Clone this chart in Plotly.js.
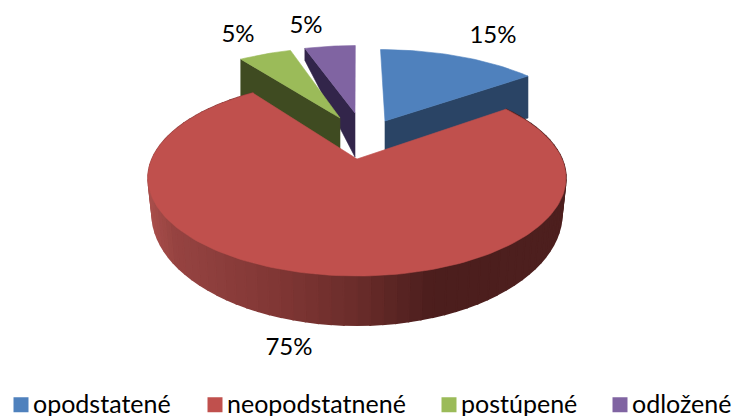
<!DOCTYPE html>
<html><head><meta charset="utf-8">
<script src="https://cdn.plot.ly/plotly-3.0.1.min.js"></script>
<style>html,body{margin:0;padding:0;background:#fff;overflow:hidden}#wrap{width:734px;height:416px;overflow:hidden}#c{width:770px;height:416px}</style>
</head><body><div id="wrap"><div id="c"></div></div>
<script>
// Data
const categories = ['opodstatené','neopodstatnené','postúpené','odložené'];
const shares = [15,75,5,5];
const colors = ['#4f81bd','#c0504d','#9bbb59','#8064a2'];
const cutColors = ['#2a4465','#4c1e1d','#3f4b21','#32254a'];

// Pie drawing order starts at 12 o'clock, clockwise
const explodeU = [0.148,0,-0.0905,-0.0108];
const explodeV = [0.437,0,0.475,0.539];
const radius = [1.06,1,1.06,1.03];
const outerDepth = [42,0,42,12];
const apexDepth = [42,0,42,44];
const labelX = [493,289,238,306];
const labelY = [37,349,36,27];
const legendPitch = [194,234,171,143];

// projection of the tilted pie plane on the page
const cx=357, cy=159, a=205, b=94.3, k=0.194;
const project=(u,v)=>{const w=1+k*v;return [cx+a*u/w, cy-b*v/w];};
const rimDepth=v=>34/(1+0.31*v);

const angles=[];let acc=0;
shares.forEach(s=>{angles.push([acc*3.6,(acc+s)*3.6]);acc+=s;});
const rad=d=>d*Math.PI/180;
const pointAt=(i,deg)=>[explodeU[i]+radius[i]*Math.sin(rad(deg)),explodeV[i]+radius[i]*Math.cos(rad(deg))];

const traces=[];
const poly=(pts,color,w)=>traces.push({type:'scatter',mode:'lines',x:pts.map(p=>p[0]),y:pts.map(p=>p[1]),
  fill:'toself',fillcolor:color,line:{color:color,width:w||0.6},hoverinfo:'skip',showlegend:false});
const topFace=i=>{
  const pts=[project(explodeU[i],explodeV[i])];
  const [s,e]=angles[i];const n=Math.max(6,Math.round((e-s)/1.5));
  for(let j=0;j<=n;j++){const p=pointAt(i,s+(e-s)*j/n);pts.push(project(p[0],p[1]));}
  pts.push(pts[0]);return pts;
};
const cutFace=(i,deg)=>{
  const ap=project(explodeU[i],explodeV[i]);
  const o=pointAt(i,deg);const op=project(o[0],o[1]);
  return [ap,op,[op[0],op[1]+outerDepth[i]],[ap[0],ap[1]+apexDepth[i]],ap];
};
// rear slices: cut faces first, then their top faces
poly(cutFace(3,angles[3][0]),cutColors[3]);
poly(topFace(3),colors[3]);
poly(cutFace(2,angles[2][0]),cutColors[2]);
poly(topFace(2),colors[2]);
poly(cutFace(0,angles[0][1]),cutColors[0]);
poly(topFace(0),colors[0]);

// big slice rim with horizontal shading
const shadeT=[0,0.06,0.30,0.50,0.675,1];
const shadeC=[[168,78,75],[150,67,65],[129,55,53],[106,44,42],[76,30,29],[77,31,30]];
const shade=t=>{let i=0;while(i<shadeT.length-2&&t>shadeT[i+1])i++;
  const f=Math.min(1,Math.max(0,(t-shadeT[i])/(shadeT[i+1]-shadeT[i])));
  const c=shadeC[i].map((x,j)=>Math.round(x+(shadeC[i+1][j]-x)*f));return `rgb(${c.join(',')})`;};
const [rs,re]=angles[1];
const steps=90;
for(let j=0;j<steps;j++){
  const d0=rs+(re-rs)*j/steps,d1=rs+(re-rs)*(j+1)/steps;
  const p0=pointAt(1,d0),p1=pointAt(1,d1);
  const t0=project(p0[0],p0[1]),t1=project(p1[0],p1[1]);
  const low=(t,p)=>[cx+(t[0]-cx)*0.98,t[1]+rimDepth(p[1])];
  poly([t0,t1,low(t1,p1),low(t0,p0),t0],shade(((t0[0]+t1[0])/2-148)/418),1.6);
}
poly(topFace(1),colors[1]);

// percentage labels
traces.push({type:'scatter',mode:'text',x:labelX,y:labelY,text:shares.map(s=>s+'%'),
  textposition:'middle center',textfont:{family:'Lato, sans-serif',size:24,color:'#000'},hoverinfo:'skip',showlegend:false});
// legend
categories.forEach((c,i)=>traces.push({type:'scatter',mode:'markers',x:[null],y:[null],name:c,
  legendwidth:legendPitch[i]-45,
  marker:{symbol:'square',size:15,color:colors[i]},hoverinfo:'skip'}));

Plotly.newPlot('c',traces,{
  width:770,height:416,margin:{l:0,r:0,t:0,b:0,autoexpand:false},paper_bgcolor:'#fff',plot_bgcolor:'#fff',
  xaxis:{range:[0,770],visible:false,fixedrange:true},
  yaxis:{range:[416,0],visible:false,fixedrange:true},
  showlegend:true,
  legend:{orientation:'h',x:-7/770,xanchor:'left',y:-10/416,yanchor:'bottom',font:{family:'Lato, sans-serif',size:25,color:'#000'},
    itemwidth:30,traceorder:'normal',bgcolor:'rgba(0,0,0,0)'}
},{displayModeBar:false,staticPlot:true}).then(()=>{
  document.querySelectorAll('#c .legend .legendsymbols').forEach(g=>g.setAttribute('transform','translate(8,2)'));
});
</script></body></html>
